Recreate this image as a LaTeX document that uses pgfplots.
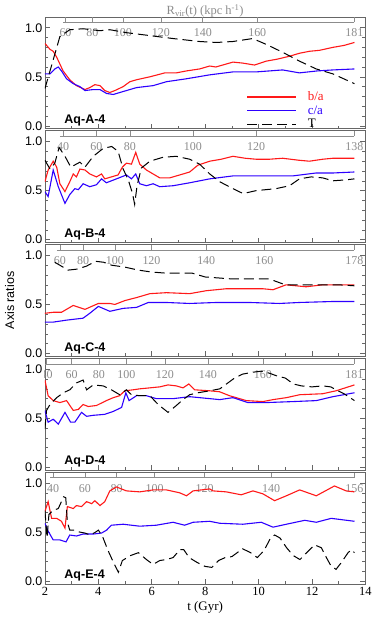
\documentclass[border=0pt]{standalone}
\usepackage{fontspec}
\setmainfont{Liberation Sans}
\newfontfamily\serif{Liberation Serif}
\usepackage{pgfplots}
\pgfplotsset{compat=1.18}
\usepgfplotslibrary{groupplots}

\definecolor{bared}{RGB}{255,25,25}
\definecolor{cablue}{RGB}{45,0,255}
\definecolor{rgray}{RGB}{140,140,140}
\newcommand{\fs}{\fontsize{12.5}{14}\selectfont}

% gray R_vir(t) scale drawn inside the top of each panel
\newcommand{\rvline}[1]{\draw[rgray, line width=0.6pt] (axis cs:#1,1.055) -- (axis cs:13.59,1.055);}
\newcommand{\rv}[2]{\draw[rgray, line width=0.6pt] (axis cs:#1,1.055) -- ([yshift=5pt]axis cs:#1,1.055);
  \node[rgray, font=\serif\fontsize{12}{14}\selectfont, anchor=center] at ([yshift=-10.5pt]axis cs:#1,1.055) {#2};}
\newcommand{\aqlabel}[1]{\node[anchor=west, font=\bfseries\fontsize{12.5}{14}\selectfont] at (axis cs:2.6,0.055) {#1};}

\pgfplotsset{
  panel/.style={
    scale only axis, width=321pt, height=112pt,
    xmin=2, xmax=14, ymin=-0.03, ymax=1.11,
    xtick={2,4,...,14}, minor x tick num=1, xtick pos=bottom,
    ytick={0,0.5,1}, minor y tick num=4, ytick pos=both,
    /pgf/number format/assume math mode=true,
    tick align=inside, major tick length=5pt, minor tick length=3pt,
    axis line style={black!60, line width=0.6pt},
    every tick/.style={black!60, line width=0.6pt},
    tick label style={font=\fs},
    yticklabel style={xshift=1pt, /pgf/number format/.cd, fixed, fixed zerofill, precision=1, assume math mode=true},
    xticklabel style={font=\serif\fs},
  },
  ba/.style={bared, line width=1.1pt},
  ca/.style={cablue, line width=1.1pt},
  tt/.style={black, line width=1.0pt, dash pattern=on 10pt off 5pt},
}

\begin{document}
\begin{tikzpicture}
\begin{groupplot}[
  group style={group size=1 by 5, vertical sep=2pt, xticklabels at=edge bottom},
  panel,
]

% ---------------- Aq-A-4
\nextgroupplot[
  title={R\textsubscript{vir}(t) (kpc h\textsuperscript{-1})},
  title style={rgray, font=\serif\fontsize{12.5}{14}\selectfont, yshift=-10pt},
  legend style={at={(axis cs:9.55,0.37)}, anchor=north west, draw=none, fill=none,
    font=\serif\fontsize{13}{14}\selectfont, row sep=-0.5pt, inner sep=0pt,
    /tikz/every odd column/.append style={column sep=9pt}},
  legend cell align=left,
  legend image code/.code={\draw[#1] (0pt,0pt) -- (49pt,0pt);},
]
\rvline{2.68}
\rv{2.77}{60}\rv{3.78}{80}\rv{4.92}{100}\rv{6.34}{120}\rv{7.91}{140}\rv{9.95}{160}\rv{13.59}{181}
\addplot[ba] coordinates {
(2.0,0.84)(2.19,0.78)(2.31,0.76)(2.44,0.70)(2.68,0.56)(2.93,0.47)(3.18,0.41)(3.5,0.37)
(3.68,0.39)(3.87,0.42)(4.06,0.41)(4.24,0.36)(4.43,0.34)(4.62,0.36)(4.93,0.40)(5.18,0.45)
(5.43,0.47)(5.93,0.50)(6.49,0.54)(6.92,0.54)(7.3,0.56)(7.79,0.58)(8.17,0.61)(8.4,0.60)
(9.04,0.65)(9.4,0.64)(9.85,0.62)(10.29,0.66)(10.7,0.68)(11.16,0.71)(11.53,0.74)(11.9,0.76)
(12.28,0.77)(12.78,0.80)(13.2,0.82)(13.59,0.85)};
\addlegendentry{\textcolor{bared}{b/a}}
\addplot[ca] coordinates {
(2.0,0.53)(2.19,0.53)(2.37,0.58)(2.5,0.60)(2.62,0.56)(2.81,0.48)(3.06,0.43)(3.31,0.40)
(3.5,0.36)(3.81,0.37)(4.06,0.37)(4.31,0.33)(4.56,0.32)(4.93,0.35)(5.43,0.39)(6.05,0.41)
(6.55,0.45)(7.3,0.48)(8.17,0.52)(9.04,0.55)(9.91,0.55)(10.9,0.57)(11.53,0.54)(12.2,0.56)
(12.78,0.57)(13.59,0.58)};
\addlegendentry{\textcolor{cablue}{c/a}}
\addplot[tt] coordinates {
(2.0,0.38)(2.19,0.56)(2.56,0.91)(2.93,0.98)(3.43,0.99)(4.06,0.97)(4.43,0.98)(5.05,0.95)
(5.93,0.92)(6.8,0.89)(7.79,0.86)(8.42,0.85)(9.04,0.86)(9.78,0.89)(10.29,0.83)(10.9,0.75)
(11.53,0.66)(12.16,0.58)(12.78,0.53)(13.59,0.43)};
\addlegendentry{T}
\aqlabel{Aq-A-4}

% ---------------- Aq-B-4
\nextgroupplot
\rvline{2.56}
\rv{2.68}{40}\rv{3.93}{60}\rv{5.18}{80}\rv{7.54}{100}\rv{9.91}{120}\rv{13.59}{138}
\addplot[ba] coordinates {
(2.0,0.59)(2.12,0.71)(2.31,0.80)(2.44,0.74)(2.56,0.57)(2.75,0.49)(2.93,0.59)(3.06,0.67)
(3.18,0.64)(3.31,0.72)(3.5,0.71)(3.68,0.67)(3.93,0.64)(4.12,0.67)(4.24,0.62)(4.49,0.64)
(4.74,0.66)(4.9,0.74)(5.05,0.78)(5.24,0.77)(5.4,0.89)(5.55,0.77)(5.8,0.71)(6.05,0.67)
(6.3,0.63)(6.67,0.63)(7.05,0.66)(7.42,0.69)(7.73,0.76)(8.17,0.80)(8.6,0.82)(9.04,0.85)
(9.5,0.83)(9.91,0.82)(10.4,0.82)(10.9,0.83)(11.5,0.81)(11.9,0.80)(12.4,0.82)(12.78,0.83)(13.59,0.83)};
\addplot[ca] coordinates {
(2.0,0.49)(2.12,0.44)(2.31,0.71)(2.5,0.54)(2.75,0.37)(2.93,0.46)(3.12,0.52)(3.25,0.51)
(3.43,0.57)(3.68,0.54)(3.93,0.56)(4.12,0.62)(4.3,0.58)(4.68,0.62)(5.05,0.66)(5.24,0.62)
(5.4,0.67)(5.55,0.57)(5.8,0.55)(6.05,0.57)(6.3,0.54)(6.8,0.55)(7.42,0.58)(8.17,0.62)
(9.04,0.65)(10.29,0.65)(11.28,0.65)(12.16,0.68)(12.8,0.68)(13.59,0.69)};
\addplot[tt] coordinates {
(2.0,0.81)(2.19,0.72)(2.37,0.78)(2.53,0.94)(2.75,0.85)(2.97,0.74)(3.31,0.79)(3.5,0.74)
(3.81,0.85)(4.18,0.93)(4.5,0.95)(4.74,0.90)(4.93,0.72)(5.12,0.61)(5.28,0.47)(5.36,0.36)
(5.45,0.55)(5.61,0.73)(5.93,0.80)(6.42,0.84)(6.92,0.85)(7.42,0.82)(7.79,0.77)(8.17,0.67)
(8.55,0.59)(9.04,0.52)(9.42,0.47)(9.91,0.50)(10.65,0.52)(11.16,0.55)(11.53,0.62)(11.97,0.64)
(12.4,0.63)(12.78,0.60)(13.28,0.61)(13.59,0.62)};
\aqlabel{Aq-B-4}

% ---------------- Aq-C-4
\nextgroupplot[ylabel={Axis ratios}, ylabel style={font=\fs, yshift=4pt}]
\rvline{2.45}
\rv{2.56}{60}\rv{3.43}{80}\rv{4.62}{100}\rv{5.99}{120}\rv{8.04}{140}\rv{10.22}{160}\rv{13.59}{178}
\addplot[ba] coordinates {
(2.0,0.41)(2.31,0.42)(2.62,0.42)(3.06,0.49)(3.5,0.45)(4.0,0.51)(4.43,0.51)(4.62,0.50)
(5.0,0.54)(5.43,0.57)(5.93,0.61)(6.55,0.62)(7.42,0.61)(8.04,0.64)(8.79,0.66)(9.54,0.66)
(10.16,0.66)(10.54,0.65)(11.03,0.70)(11.78,0.68)(12.4,0.70)(13.59,0.70)};
\addplot[ca] coordinates {
(2.0,0.32)(2.31,0.32)(2.81,0.34)(3.43,0.36)(3.68,0.41)(4.0,0.48)(4.43,0.43)(4.93,0.46)
(5.43,0.47)(5.87,0.52)(6.55,0.52)(7.42,0.51)(8.42,0.52)(9.66,0.52)(10.78,0.51)(11.53,0.52)
(12.78,0.53)(13.59,0.53)};
\addplot[tt] coordinates {
(2.37,0.93)(2.62,0.89)(2.87,0.85)(3.2,0.86)(3.55,0.89)(3.9,0.94)(4.2,0.93)(4.5,0.90)
(5.0,0.88)(5.5,0.85)(6.0,0.83)(6.5,0.82)(7.0,0.82)(7.5,0.82)(8.0,0.78)(8.5,0.77)(9.0,0.76)
(9.5,0.76)(10.0,0.76)(10.4,0.76)(10.7,0.73)(11.0,0.70)(11.5,0.70)(12.0,0.70)(12.5,0.70)
(13.0,0.70)(13.59,0.69)};
\aqlabel{Aq-C-4}

% ---------------- Aq-D-4
\nextgroupplot
\rvline{2.0}
\rv{2.06}{40}\rv{3.0}{60}\rv{4.02}{80}\rv{5.05}{100}\rv{6.49}{120}\rv{8.1}{140}\rv{10.16}{160}\rv{13.59}{181}
\addplot[ba] coordinates {
(2.0,0.89)(2.12,0.73)(2.31,0.68)(2.56,0.66)(2.81,0.68)(3.06,0.58)(3.25,0.59)(3.43,0.64)
(3.62,0.62)(3.93,0.63)(4.3,0.68)(4.56,0.71)(4.8,0.73)(4.99,0.78)(5.3,0.79)(5.55,0.80)
(5.93,0.81)(6.3,0.82)(6.61,0.84)(6.92,0.83)(7.17,0.81)(7.39,0.85)(7.61,0.79)(8.17,0.78)
(8.54,0.77)(8.91,0.73)(9.54,0.68)(10.16,0.67)(10.54,0.69)(11.04,0.71)(11.54,0.74)(12.4,0.75)
(12.9,0.78)(13.59,0.84)};
\addplot[ca] coordinates {
(2.0,0.58)(2.12,0.46)(2.31,0.49)(2.5,0.44)(2.75,0.56)(2.96,0.46)(3.12,0.46)(3.37,0.56)
(3.56,0.52)(3.81,0.53)(4.24,0.54)(4.56,0.57)(4.87,0.61)(5.03,0.76)(5.15,0.68)(5.43,0.73)
(5.8,0.73)(6.17,0.70)(6.8,0.70)(7.42,0.72)(8.17,0.70)(8.54,0.69)(9.04,0.71)(9.6,0.66)
(10.29,0.66)(11.29,0.67)(12.16,0.68)(12.78,0.72)(13.59,0.76)};
\addplot[tt] coordinates {
(2.0,0.39)(2.06,0.58)(2.19,0.64)(2.44,0.71)(2.69,0.76)(2.93,0.79)(3.18,0.86)(3.43,0.89)
(3.56,0.79)(3.81,0.84)(4.18,0.83)(4.49,0.79)(4.8,0.74)(5.05,0.79)(5.24,0.74)(5.55,0.73)
(5.93,0.73)(6.24,0.64)(6.61,0.56)(6.92,0.63)(7.17,0.69)(7.42,0.74)(7.73,0.76)(8.17,0.78)
(8.55,0.80)(8.8,0.85)(9.1,0.91)(9.4,0.95)(9.8,0.97)(10.1,0.98)(10.4,0.96)(10.7,0.93)
(11.0,0.91)(11.3,0.85)(11.6,0.83)(12.0,0.82)(12.4,0.83)(12.7,0.82)(12.9,0.79)(13.2,0.75)
(13.59,0.68)};
\aqlabel{Aq-D-4}

% ---------------- Aq-E-4
\nextgroupplot[xlabel={t (Gyr)}, xlabel style={font=\serif\fontsize{13}{14}\selectfont, yshift=1pt}]
\rvline{2.19}
\rv{2.31}{40}\rv{3.5}{60}\rv{4.68}{80}\rv{6.11}{100}\rv{7.98}{120}\rv{10.47}{140}\rv{13.59}{156}
\addplot[ba] coordinates {
(2.0,0.71)(2.12,0.81)(2.25,0.64)(2.44,0.64)(2.62,0.61)(2.75,0.54)(2.84,0.76)(3.06,0.74)
(3.18,0.77)(3.37,0.76)(3.56,0.81)(3.75,0.79)(3.87,0.82)(4.06,0.77)(4.24,0.81)(4.43,0.92)
(4.68,0.96)(5.05,0.92)(5.55,0.91)(6.05,0.93)(6.55,0.93)(7.05,0.90)(7.3,0.87)(7.55,0.92)
(8.17,0.94)(8.29,0.92)(8.79,0.91)(9.35,0.88)(9.79,0.92)(10.16,0.89)(10.6,0.82)(11.04,0.87)
(11.54,0.93)(12.16,0.87)(12.84,0.97)(13.28,0.92)(13.59,0.91)};
\addplot[ca] coordinates {
(2.0,0.59)(2.12,0.51)(2.31,0.42)(2.56,0.42)(2.79,0.40)(2.93,0.47)(3.18,0.46)(3.43,0.48)
(3.81,0.48)(4.12,0.49)(4.31,0.52)(4.49,0.57)(4.93,0.58)(5.55,0.56)(6.17,0.57)(6.8,0.60)
(7.23,0.57)(7.55,0.60)(8.17,0.61)(8.54,0.59)(9.41,0.58)(10.1,0.60)(10.54,0.55)(11.04,0.58)
(11.73,0.62)(12.16,0.60)(12.72,0.64)(13.59,0.61)};
\addplot[tt] coordinates {
(2.0,0.72)(2.08,0.44)(2.15,0.68)(2.3,0.72)(2.5,0.74)(2.7,0.86)(2.78,0.85)(2.84,0.60)
(2.93,0.52)(3.1,0.52)(3.3,0.50)(3.5,0.49)(3.7,0.47)(3.9,0.50)(4.0,0.52)(4.15,0.46)
(4.35,0.32)(4.55,0.20)(4.75,0.09)(4.9,0.21)(5.2,0.26)(5.5,0.29)(5.8,0.22)(6.05,0.17)
(6.3,0.21)(6.55,0.22)(6.8,0.24)(7.05,0.32)(7.2,0.32)(7.4,0.24)(7.7,0.19)(8.0,0.15)
(8.25,0.14)(8.5,0.21)(8.75,0.24)(9.0,0.25)(9.4,0.33)(9.7,0.29)(9.95,0.24)(10.2,0.31)
(10.45,0.44)(10.6,0.47)(10.8,0.44)(11.05,0.34)(11.3,0.26)(11.55,0.22)(11.8,0.29)(12.1,0.37)
(12.35,0.34)(12.5,0.26)(12.7,0.16)(12.9,0.12)(13.1,0.19)(13.35,0.29)(13.47,0.32)(13.59,0.29)};
\aqlabel{Aq-E-4}
\end{groupplot}
\pgfresetboundingbox
\path ([shift={(-45pt,17pt)}]group c1r1.north west) rectangle ([shift={(8pt,-38pt)}]group c1r5.south east);
\end{tikzpicture}
\end{document}
